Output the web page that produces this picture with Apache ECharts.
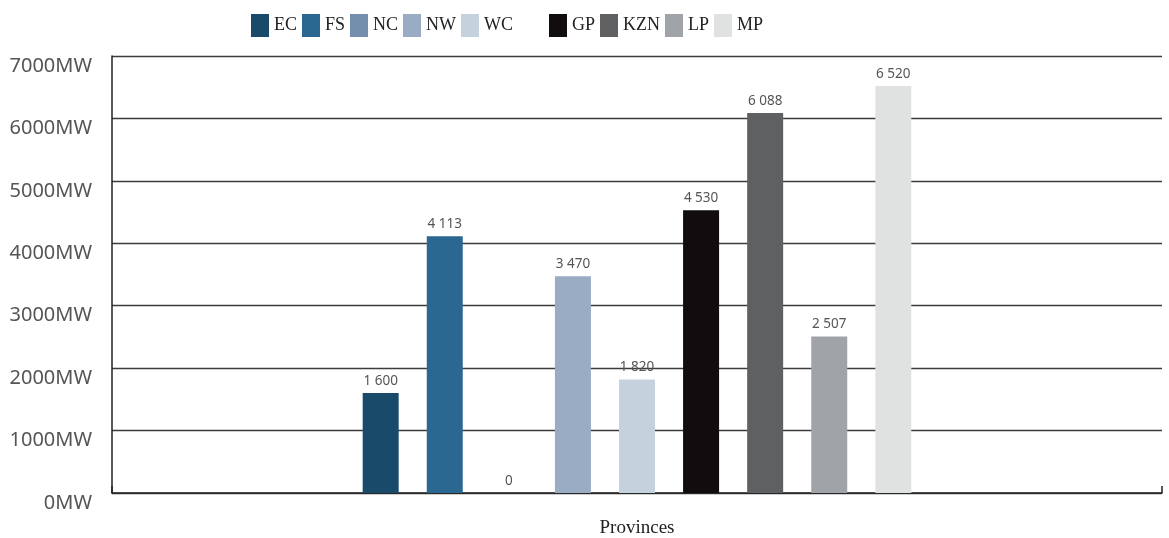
<!DOCTYPE html>
<html>
<head>
<meta charset="utf-8">
<script src="https://cdn.jsdelivr.net/npm/echarts@6/dist/echarts.min.js"></script>
<style>html,body{margin:0;padding:0;background:#fff;overflow:hidden}#c{width:1169px;height:538px}</style>
</head>
<body>
<div id="c"></div>
<script>
const categories = ['Provinces'];
const provinces = ['EC', 'FS', 'NC', 'NW', 'WC', 'GP', 'KZN', 'LP', 'MP'];
const values = [1600, 4113, 0, 3470, 1820, 4530, 6088, 2507, 6520];
const yTicks = [0, 1000, 2000, 3000, 4000, 5000, 6000, 7000];
const legendGroupA = ['EC', 'FS', 'NC', 'NW', 'WC'];
const legendGroupB = ['GP', 'KZN', 'LP', 'MP'];

const palette = ['#1a4a6a', '#2b6891', '#748ead', '#9aabc4', '#c5d1dd', '#110d0e', '#5f6062', '#a0a4a8', '#e0e2e1'];
const serif = '"Liberation Serif", "DejaVu Serif", serif';
const sans = '"Noto Sans", "DejaVu Sans", sans-serif';

function fmt(v) {
  return String(v).replace(/\B(?=(\d{3})+(?!\d))/g, ' ');
}

const chart = echarts.init(document.getElementById('c'), null, { renderer: 'canvas' });

const legendCommon = {
  top: 14,
  padding: 0,
  icon: 'rect',
  itemWidth: 18,
  itemHeight: 23,
  itemGap: 5,
  textStyle: { fontFamily: serif, fontSize: 18, color: '#222' }
};

chart.setOption({
  animation: false,
  grid: { left: 112, right: 7, top: 56, bottom: 41, containLabel: false },
  legend: [
    Object.assign({}, legendCommon, { left: 251, data: legendGroupA }),
    Object.assign({}, legendCommon, { left: 549, data: legendGroupB })
  ],
  xAxis: {
    type: 'category',
    data: categories,
    axisLine: { show: true, lineStyle: { color: '#222', width: 1.5 } },
    axisTick: { show: true, inside: true, length: 7, lineStyle: { color: '#222', width: 1.5 } },
    axisLabel: { margin: 26, fontFamily: serif, fontSize: 19, color: '#222' }
  },
  yAxis: {
    type: 'value',
    min: yTicks[0],
    max: yTicks[yTicks.length - 1],
    interval: 1000,
    axisLine: { show: true, lineStyle: { color: '#222', width: 1.5 } },
    axisTick: { show: false },
    splitLine: { show: true, lineStyle: { color: '#3c3c3c', width: 1.3 } },
    axisLabel: {
      margin: 20,
      fontFamily: sans,
      fontSize: 20,
      color: '#555',
      verticalAlign: 'top',
      formatter: v => v + 'MW'
    }
  },
  series: provinces.map((p, i) => ({
    name: p,
    type: 'bar',
    data: [values[i]],
    barWidth: 36,
    barGap: '78%',
    itemStyle: { color: palette[i] },
    label: {
      show: true,
      position: 'top',
      distance: 5,
      fontFamily: sans,
      fontSize: 13.5,
      color: '#555',
      formatter: d => fmt(d.value)
    }
  }))
});
</script>
</body>
</html>
